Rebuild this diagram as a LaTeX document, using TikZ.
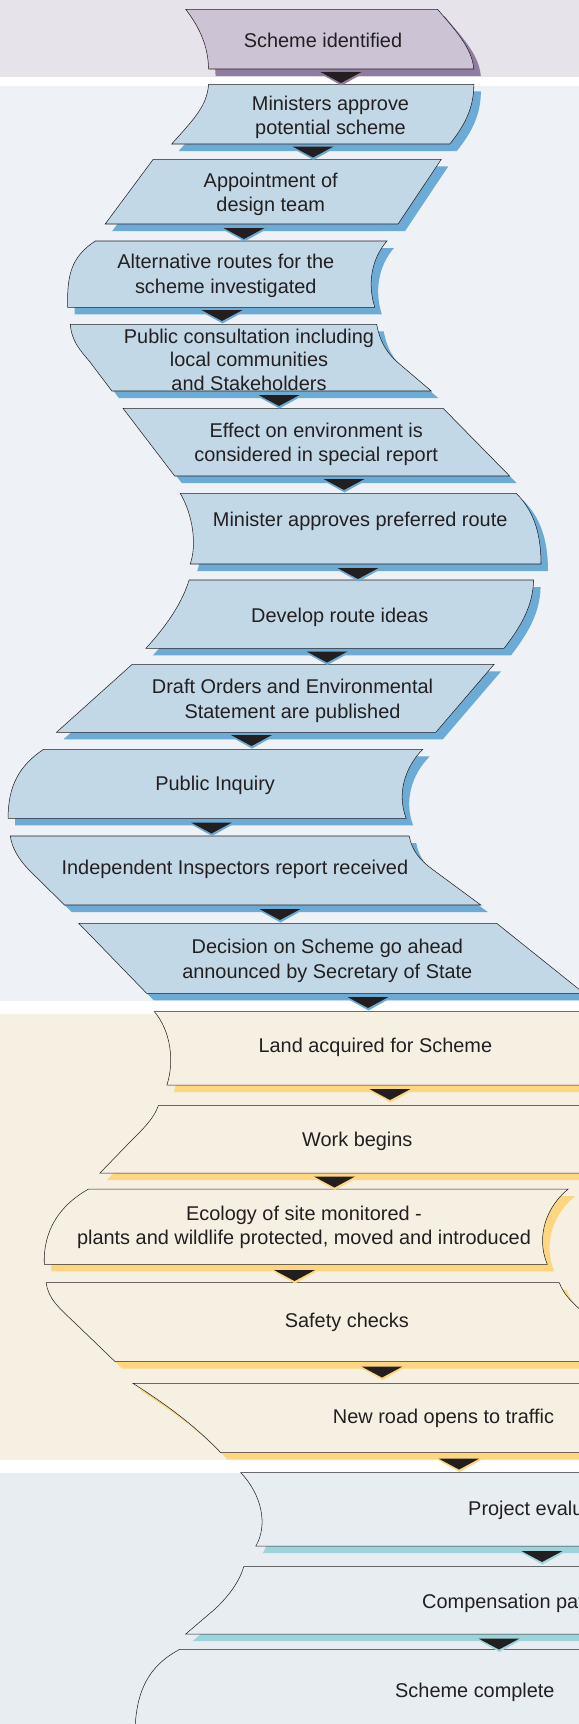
\documentclass[tikz,border=0pt]{standalone}
\usepackage{fontspec}
\setmainfont{Liberation Sans}

\definecolor{bandtop}{HTML}{E6E3EA}
\definecolor{bandblue}{HTML}{EEF2F6}
\definecolor{bandcream}{HTML}{F6F0E2}
\definecolor{bandgrey}{HTML}{E8EDF2}
\definecolor{fillmauve}{HTML}{CCC4D5}
\definecolor{fillblue}{HTML}{C2D8E6}
\definecolor{shademauve}{HTML}{8F7CA0}
\definecolor{shadeblue}{HTML}{6BABD5}
\definecolor{shadegold}{HTML}{FDD67F}
\definecolor{shadeteal}{HTML}{9DD4DA}
\definecolor{inkgrey}{HTML}{231F20}

% one step of the chart: outline path, fill, shadow colour
\newcommand{\flowbox}[3]{%
  \fill[#3,shift={(7,7)}] #1;
  \filldraw[box,fill=#2] #1;}
% the black pointer between two steps: centre x, top y, shadow colour
\newcommand{\flowtip}[3]{%
  \fill[#3] (#1-21,#2+1.5) -- (#1+22,#2+1.5) -- (#1+0.5,#2+13.5) -- cycle;
  \fill[inkgrey] (#1-20.5,#2) -- (#1+20.5,#2) -- (#1,#2+11) -- cycle;}

\begin{document}
\begin{tikzpicture}[x=0.3mm,y=-0.3mm]

    \tikzset{
      box/.style={
        draw=inkgrey,
        line width=0.45pt,
        line join=miter,
      },
      steptext/.style={
        font=\fontsize{17}{21}\selectfont,
        text=inkgrey,
        align=center,
        inner sep=0pt,
        yshift=-0.75mm,
      },
    }
    \useasboundingbox (0,0) rectangle (579,1724);
    \clip (0,0) rectangle (579,1724);
    \fill[white] (0,0) rectangle (579,1724);
    \fill[bandtop] (0,0) rectangle (579,77);
    \fill[bandblue] (0,86) rectangle (579,1001);
    \fill[bandcream] (0,1014) rectangle (579,1460);
    \fill[bandgrey] (0,1473) rectangle (579,1724);

    % first band
    \flowbox{(185.7,9.3) -- (437.6,9.3) .. controls (456,31) and (472,48) .. (473.8,69) -- (208.6,69) .. controls (208,46) and (200,28) .. (185.7,9.3) -- cycle}{fillmauve}{shademauve}
    \node[steptext] (scheme) at (323,38) {Scheme identified};

    % second band
    \flowbox{(208.6,84.3) -- (473.8,84.3) .. controls (474,106) and (466,124) .. (449.8,144) -- (171.7,144) .. controls (194,119) and (207,106) .. (208.6,84.3) -- cycle}{fillblue}{shadeblue}
    \flowbox{(153.2,159.3) -- (441.3,159.3) -- (398.1,224) -- (105.2,224) -- cycle}{fillblue}{shadeblue}
    \flowbox{(95.3,241) -- (387,241) .. controls (372,258) and (367,283) .. (374.8,307.3) -- (67.6,307.3) .. controls (67,275) and (71,257) .. (95.3,241) -- cycle}{fillblue}{shadeblue}
    \flowbox{(70.2,324.3) -- (376.7,324.3) .. controls (380,342) and (386,351) .. (396,361) -- (431.3,391) -- (111.9,391) -- (90,362) .. controls (80,350) and (72,342) .. (70.2,324.3) -- cycle}{fillblue}{shadeblue}
    \flowbox{(123,408.3) -- (443.1,408.3) -- (509.6,476) -- (174.7,476) -- cycle}{fillblue}{shadeblue}
    \flowbox{(180.2,493.3) -- (516.2,493.3) .. controls (533,510) and (541,532) .. (541,564) -- (190.2,564) .. controls (197,545) and (193,515) .. (180.2,493.3) -- cycle}{fillblue}{shadeblue}
    \flowbox{(189.1,580) -- (533.6,580) .. controls (533,605) and (522,625) .. (504.1,648.3) -- (145.9,648.3) .. controls (170,622) and (183,600) .. (189.1,580) -- cycle}{fillblue}{shadeblue}
    \flowbox{(132.2,664.3) -- (494.1,664.3) -- (435.8,732.3) -- (56.5,732.3) -- cycle}{fillblue}{shadeblue}
    \flowbox{(43.6,749.3) -- (422.8,749.3) .. controls (404,768) and (397,795) .. (406.2,818.3) -- (8.1,818.3) .. controls (8,785) and (20,765) .. (43.6,749.3) -- cycle}{fillblue}{shadeblue}
    \flowbox{(10.3,836) -- (409.2,836) .. controls (412,851) and (420,860) .. (432,869) -- (480.8,905) -- (64.6,905) -- (28,869) .. controls (18,858) and (12,848) .. (10.3,836) -- cycle}{fillblue}{shadeblue}
    \flowbox{(78.7,923.3) -- (496.7,923.3) -- (584,993.3) -- (146.6,993.3) -- cycle}{fillblue}{shadeblue}

    \node[steptext] (ministers) at (330.5,115) {Ministers approve\\potential scheme};
    \node[steptext] (designteam) at (270.7,191.7) {Appointment of\\design team};
    \node[steptext] (routes) at (225.8,273.3) {Alternative routes for the\\scheme investigated};
    \node[steptext,font=\fontsize{17}{20}\selectfont] (consult) at (249,357) {Public consultation including\\local communities\\and Stakeholders};
    \node[steptext] (environ) at (316.2,442) {Effect on environment is\\considered in special report};
    \node[steptext] (preferred) at (360.2,519.3) {Minister approves preferred route};
    \node[steptext] (develop) at (339.7,615) {Develop route ideas};
    \node[steptext] (orders) at (292.5,698.3) {Draft Orders and Environmental\\Statement are published};
    \node[steptext] (inquiry) at (215.1,783.3) {Public Inquiry};
    \node[steptext] (inspectors) at (234.9,866.7) {Independent Inspectors report received};
    \node[steptext] (decision) at (327.3,958.3) {Decision on Scheme go ahead\\announced by Secretary of State};

    % third band
    \flowbox{(154.4,1011.7) -- (590,1011.7) -- (590,1085) -- (166.9,1085) .. controls (175,1060) and (170,1030) .. (154.4,1011.7) -- cycle}{bandcream}{shadegold}
    \flowbox{(158.3,1105.7) -- (590,1105.7) -- (590,1173) -- (100,1173) -- (130,1142) .. controls (145,1127) and (154,1118) .. (158.3,1105.7) -- cycle}{bandcream}{shadegold}
    \flowbox{(88.6,1189) -- (568.3,1189) .. controls (548,1205) and (535,1235) .. (547.3,1264.3) -- (44.3,1264.3) .. controls (43,1230) and (60,1205) .. (88.6,1189) -- cycle}{bandcream}{shadegold}
    \flowbox{(46.2,1282.7) -- (559.3,1282.7) .. controls (564,1295) and (572,1303) .. (590,1318) -- (590,1361.7) -- (115.2,1361.7) -- (75,1323) .. controls (58,1307) and (48,1298) .. (46.2,1282.7) -- cycle}{bandcream}{shadegold}
    \flowbox{(132.9,1383.3) -- (590,1383.3) -- (590,1452.7) -- (220.8,1452.7) .. controls (200,1431) and (175,1410) .. (132.9,1383.3) -- cycle}{bandcream}{shadegold}

    \node[steptext] (land) at (375.4,1045) {Land acquired for Scheme};
    \node[steptext] (work) at (357.3,1139.3) {Work begins};
    \node[steptext] (ecology) at (304,1224.7) {Ecology of site monitored -\\plants and wildlife protected, moved and introduced};
    \node[steptext] (safety) at (346.8,1320) {Safety checks};
    \node[steptext] (opens) at (443.5,1416) {New road opens to traffic};

    % last band
    \flowbox{(240.8,1472.7) -- (590,1472.7) -- (590,1546) -- (255.9,1546) .. controls (268,1525) and (262,1495) .. (240.8,1472.7) -- cycle}{bandgrey}{shadeteal}
    \flowbox{(243.7,1566.7) -- (590,1566.7) -- (590,1634) -- (185.7,1634) -- (215,1609) .. controls (230,1595) and (240,1580) .. (243.7,1566.7) -- cycle}{bandgrey}{shadeteal}
    \flowbox{(179.8,1649.3) -- (590,1649.3) -- (590,1740) -- (135,1740) .. controls (134,1690) and (150,1665) .. (179.8,1649.3) -- cycle}{bandgrey}{shadeteal}

    \node[steptext,anchor=west] (evaluate) at (468,1508.3) {Project evalu};
    \node[steptext,anchor=west] (compensate) at (422,1600.7) {Compensation pay};
    \node[steptext] (complete) at (474.9,1690) {Scheme complete};

    % pointers
    \flowtip{341}{72}{shademauve}
    \foreach \px/\py in {313/146.5, 244/228, 222/310, 279/395, 344/479, 358/568, 327/651.5, 251.5/735, 211.5/822.5, 280/909, 368/997}
      {\flowtip{\px}{\py}{shadeblue}}
    \foreach \px/\py in {390/1089, 334.5/1176.5, 294.5/1270, 382/1366.5, 459/1458.5}
      {\flowtip{\px}{\py}{shadegold}}
    \foreach \px/\py in {542/1551, 499/1638.5}
      {\flowtip{\px}{\py}{shadeteal}}

\end{tikzpicture}
\end{document}
